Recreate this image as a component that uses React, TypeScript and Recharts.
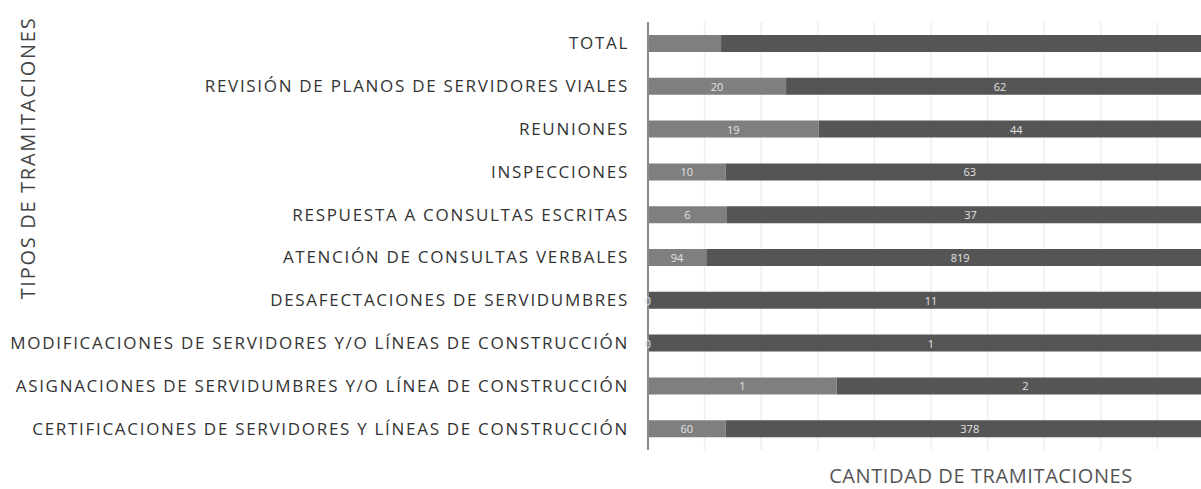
import React from "react";
import { BarChart, Bar, XAxis, YAxis, CartesianGrid, LabelList } from "recharts";

const categories = [
  "TOTAL",
  "REVISIÓN DE PLANOS DE SERVIDORES VIALES",
  "REUNIONES",
  "INSPECCIONES",
  "RESPUESTA A CONSULTAS ESCRITAS",
  "ATENCIÓN DE CONSULTAS VERBALES",
  "DESAFECTACIONES DE SERVIDUMBRES",
  "MODIFICACIONES DE SERVIDORES Y/O LÍNEAS DE CONSTRUCCIÓN",
  "ASIGNACIONES DE SERVIDUMBRES Y/O LÍNEA DE CONSTRUCCIÓN",
  "CERTIFICACIONES DE SERVIDORES Y LÍNEAS DE CONSTRUCCIÓN",
];
const seriesA = [210, 20, 19, 10, 6, 94, 0, 0, 1, 60];
const seriesB = [1417, 62, 44, 63, 37, 819, 11, 1, 2, 378];
const gridTicks = [0, 0.1, 0.2, 0.3, 0.4, 0.5, 0.6, 0.7, 0.8, 0.9, 1];
const yTitle = "TIPOS DE TRAMITACIONES";
const xTitle = "CANTIDAD DE TRAMITACIONES";

const data = categories.map((c, i) => ({ name: c, a: seriesA[i], b: seriesB[i] }));

const FONT = "'Open Sans', sans-serif";
const LABEL_FILL = "#e4e4e4";

const labelText = (x: number, y: number, v: any, key?: string) => (
  <text
    key={key}
    x={x}
    y={y}
    textAnchor="middle"
    dominantBaseline="central"
    fill={LABEL_FILL}
    fontSize={11}
    fontFamily={FONT}
  >
    {v}
  </text>
);

const renderLabelA = (props: any) => {
  const { x, y, width, height, value, index } = props;
  if (index === 0) return null;
  return labelText(Number(x) + Number(width) / 2, Number(y) + Number(height) / 2, value);
};

const renderLabelB = (props: any) => {
  const { x, y, width, height, value, index } = props;
  if (index === 0) return null;
  const cy = Number(y) + Number(height) / 2;
  const main = labelText(Number(x) + Number(width) / 2, cy, value, "m");
  if (seriesA[index] === 0) {
    return (
      <g>
        {labelText(Number(x), cy, seriesA[index], "z")}
        {main}
      </g>
    );
  }
  return main;
};

export default function App() {
  return (
    <div style={{ position: "absolute", left: 0, top: 0, width: 1201, height: 489, background: "#fff", overflow: "hidden" }}>
      <BarChart
        width={1201}
        height={489}
        data={data}
        layout="vertical"
        stackOffset="expand"
        margin={{ top: 22, right: -13, bottom: 39, left: 0 }}
        barCategoryGap={0}
      >
        <CartesianGrid horizontal={false} stroke="#efefef" strokeWidth={1.5} />
        <XAxis type="number" hide domain={[0, 1]} ticks={gridTicks} />
        <YAxis
          type="category"
          dataKey="name"
          width={648}
          tickLine={false}
          axisLine={{ stroke: "#8a8a8a", strokeWidth: 2 }}
          tickMargin={13}
          tick={{ fill: "#333", fontSize: 17, fontFamily: FONT, letterSpacing: 1.7 }}
          interval={0}
        />
        <Bar dataKey="a" stackId="s" fill="#7f7f7f" barSize={17} isAnimationActive={false}>
          <LabelList dataKey="a" content={renderLabelA} />
        </Bar>
        <Bar dataKey="b" stackId="s" fill="#555555" barSize={17} isAnimationActive={false}>
          <LabelList dataKey="b" content={renderLabelB} />
        </Bar>
      </BarChart>
      <div
        style={{
          position: "absolute",
          left: 28,
          top: 158,
          transform: "translate(-50%, -50%) rotate(-90deg)",
          whiteSpace: "nowrap",
          fontFamily: FONT,
          fontSize: 20,
          lineHeight: "20px",
          letterSpacing: 1.7,
          color: "#444",
        }}
      >
        {yTitle}
      </div>
      <div
        style={{
          position: "absolute",
          left: 981,
          top: 476,
          transform: "translate(-50%, -50%)",
          whiteSpace: "nowrap",
          fontFamily: FONT,
          fontSize: 20,
          lineHeight: "20px",
          letterSpacing: 0.6,
          color: "#555",
        }}
      >
        {xTitle}
      </div>
    </div>
  );
}
